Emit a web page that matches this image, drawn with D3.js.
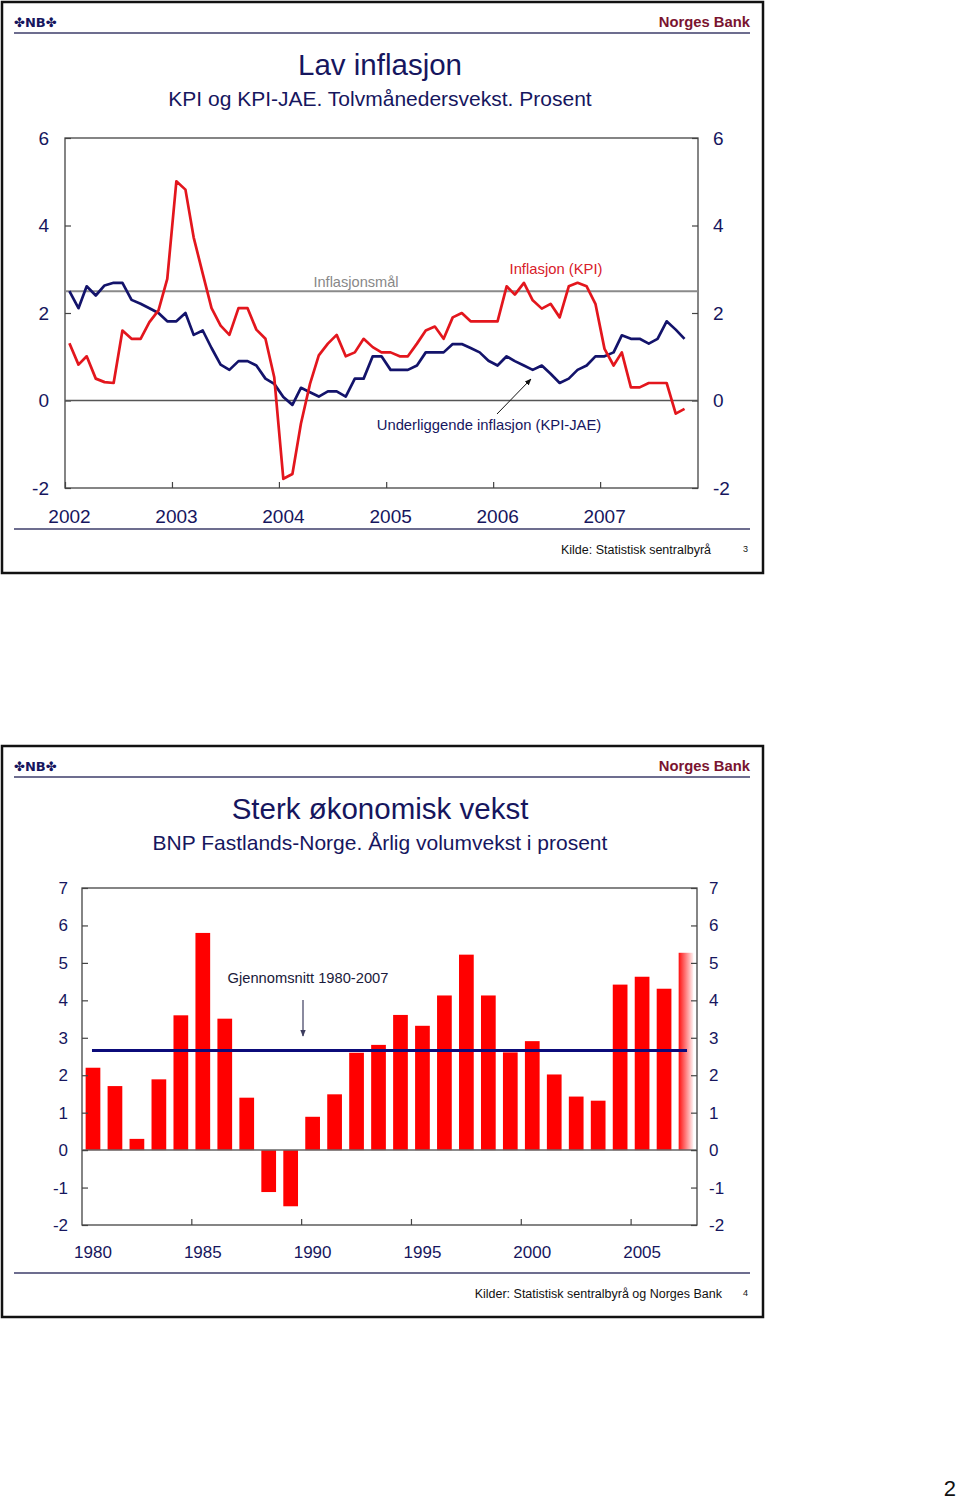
<!DOCTYPE html>
<html>
<head>
<meta charset="utf-8">
<script src="https://cdn.jsdelivr.net/npm/d3@7"></script>
<style>
body { margin: 0; background: #fff; }
text { font-family: "Liberation Sans", Arial, sans-serif; }
</style>
</head>
<body>
<svg id="paper" width="960" height="1501"></svg>
<script>
// KPI and KPI-JAE, twelve-month growth, Jan 2002 - Oct 2007
var kpi = [1.31, 0.82, 1.01, 0.50, 0.42, 0.40, 1.60, 1.41, 1.41, 1.79, 2.06, 2.78,
           5.01, 4.82, 3.73, 2.90, 2.11, 1.71, 1.50, 2.11, 2.11, 1.62, 1.41, 0.53,
           -1.79, -1.68, -0.53, 0.38, 1.03, 1.30, 1.50, 1.01, 1.10, 1.41, 1.22, 1.10,
           1.10, 1.01, 1.01, 1.30, 1.60, 1.69, 1.41, 1.90, 2.00, 1.81, 1.81, 1.81,
           1.81, 2.61, 2.42, 2.69, 2.29, 2.10, 2.21, 1.90, 2.61, 2.69, 2.61, 2.21,
           1.18, 0.80, 1.10, 0.30, 0.30, 0.40, 0.40, 0.40, -0.30, -0.19];
var kpiJae = [2.50, 2.11, 2.61, 2.40, 2.63, 2.69, 2.69, 2.30, 2.21, 2.11, 2.00, 1.81,
              1.81, 2.00, 1.50, 1.60, 1.20, 0.82, 0.70, 0.90, 0.90, 0.80, 0.50, 0.38,
              0.08, -0.10, 0.29, 0.19, 0.09, 0.21, 0.21, 0.09, 0.50, 0.50, 1.01, 1.01,
              0.70, 0.70, 0.70, 0.80, 1.10, 1.10, 1.10, 1.29, 1.29, 1.20, 1.10, 0.91,
              0.80, 1.01, 0.90, 0.80, 0.70, 0.80, 0.61, 0.40, 0.50, 0.70, 0.80, 1.01,
              1.01, 1.10, 1.49, 1.41, 1.41, 1.30, 1.41, 1.81, 1.62, 1.41];
var inflationTarget = 2.5;
var kpiTicks = [-2, 0, 2, 4, 6];

// BNP Fastlands-Norge, annual volume growth
var gdpYears = [1980, 1981, 1982, 1983, 1984, 1985, 1986, 1987, 1988, 1989,
                1990, 1991, 1992, 1993, 1994, 1995, 1996, 1997, 1998, 1999,
                2000, 2001, 2002, 2003, 2004, 2005, 2006, 2007];
var gdpGrowth = [2.20, 1.71, 0.30, 1.89, 3.60, 5.80, 3.51, 1.40, -1.12, -1.50,
                 0.89, 1.49, 2.60, 2.81, 3.61, 3.32, 4.13, 5.22, 4.13, 2.61,
                 2.91, 2.02, 1.43, 1.32, 4.42, 4.63, 4.31, 5.27];
var gdpAverage = 2.66;
var gdpTicks = [-2, -1, 0, 1, 2, 3, 4, 5, 6, 7];
var gdpLabelYears = [1980, 1985, 1990, 1995, 2000, 2005];

var svg = d3.select("#paper");
var navy = "#16165e";
var plain = function(d) { return String(d); };   // keep the hyphen minus as in the slide

var defs = svg.append("defs");
defs.append("marker").attr("id", "arrowBlack")
    .attr("viewBox", "0 0 10 10").attr("refX", 9).attr("refY", 5)
    .attr("markerWidth", 7).attr("markerHeight", 7).attr("orient", "auto")
  .append("path").attr("d", "M0,1L10,5L0,9z").style("fill", "#111");
defs.append("marker").attr("id", "arrowGrey")
    .attr("viewBox", "0 0 10 10").attr("refX", 9).attr("refY", 5)
    .attr("markerWidth", 6).attr("markerHeight", 6).attr("orient", "auto")
  .append("path").attr("d", "M0,1L10,5L0,9z").style("fill", "#3c3c5e");
var fade = defs.append("linearGradient").attr("id", "fade")
    .attr("x1", 0).attr("x2", 1).attr("y1", 0).attr("y2", 0);
fade.append("stop").attr("offset", "0%").style("stop-color", "#ff1010");
fade.append("stop").attr("offset", "100%").style("stop-color", "#fff2f2");

function drawSlide(y0, title, subtitle, source, sourceX, page) {
    var g = svg.append("g").attr("transform", "translate(0," + y0 + ")");
    g.append("rect").attr("x", 2).attr("y", 2).attr("width", 761).attr("height", 571)
        .style("fill", "none").style("stroke", "#111").style("stroke-width", 2.5);
    g.append("text").attr("x", 14).attr("y", 27).text("✤NB✤")
        .style("font-size", "13px").style("font-weight", "bold").style("fill", navy)
        .style("font-family", "DejaVu Sans");
    g.append("text").attr("x", 750).attr("y", 27).attr("text-anchor", "end").text("Norges Bank")
        .style("font-size", "14.8px").style("font-weight", "bold").style("fill", "#7a1430");
    g.append("line").attr("x1", 14).attr("x2", 750).attr("y1", 33).attr("y2", 33)
        .style("stroke", "#3c3c6a").style("stroke-width", 1.5);
    g.append("text").attr("x", 380).attr("y", 75).attr("text-anchor", "middle").text(title)
        .style("font-size", "29.5px").style("fill", navy);
    g.append("text").attr("x", 380).attr("y", 106).attr("text-anchor", "middle").text(subtitle)
        .style("font-size", "21px").style("fill", navy);
    g.append("line").attr("x1", 14).attr("x2", 750).attr("y1", 529).attr("y2", 529)
        .style("stroke", "#3c3c6a").style("stroke-width", 1.5);
    g.append("text").attr("x", sourceX).attr("y", 554).attr("text-anchor", "end").text(source)
        .style("font-size", "12.5px").style("fill", "#111");
    g.append("text").attr("x", 748).attr("y", 552).attr("text-anchor", "end").text(page)
        .style("font-size", "9px").style("fill", "#111");
    return g;
}

drawSlide(0, "Lav inflasjon", "KPI og KPI-JAE. Tolvmånedersvekst. Prosent",
          "Kilde: Statistisk sentralbyrå", 711, "3");
drawSlide(744, "Sterk økonomisk vekst", "BNP Fastlands-Norge. Årlig volumvekst i prosent",
          "Kilder: Statistisk sentralbyrå og Norges Bank", 722, "4");

function styleAxis(a, size) {
    a.select(".domain").remove();
    a.selectAll(".tick line").style("stroke", "#444").style("stroke-width", 1.2);
    a.selectAll(".tick text").style("font-size", size).style("fill", navy)
        .style("font-family", "Liberation Sans, Arial, sans-serif");
}

// ---------- chart 1: inflation ----------
var x = d3.scaleTime().domain([new Date(2002, 0, 1), new Date(2007, 11, 1)]).range([65, 698]);
var y = d3.scaleLinear().domain([-2, 6]).range([488, 138]);
var c1 = svg.append("g");

c1.append("rect").attr("x", 65).attr("y", 138).attr("width", 633).attr("height", 350)
    .style("fill", "none").style("stroke", "#444").style("stroke-width", 1.3);

var ax = c1.append("g").attr("transform", "translate(65,0)")
    .call(d3.axisLeft(y).tickValues(kpiTicks).tickFormat(plain).tickSize(-6).tickPadding(16));
styleAxis(ax, "19px");
ax = c1.append("g").attr("transform", "translate(698,0)")
    .call(d3.axisRight(y).tickValues(kpiTicks).tickFormat(plain).tickSize(-6).tickPadding(15));
styleAxis(ax, "19px");
ax = c1.append("g").attr("transform", "translate(0,488)")
    .call(d3.axisBottom(x).ticks(d3.timeYear.every(1)).tickFormat(d3.timeFormat("%Y"))
        .tickSize(-6).tickPadding(22));
styleAxis(ax, "19px");
ax.selectAll(".tick text").attr("dx", 4);

c1.append("line").attr("x1", 65).attr("x2", 698).attr("y1", y(0)).attr("y2", y(0))
    .style("stroke", "#555").style("stroke-width", 1.5);
c1.append("line").attr("x1", 65).attr("x2", 698)
    .attr("y1", y(inflationTarget)).attr("y2", y(inflationTarget))
    .style("stroke", "#8a8a8a").style("stroke-width", 2);

var line = d3.line()
    .x(function(d, i) { return x(new Date(2002, i, 16)); })
    .y(function(d) { return y(d); });

c1.append("path").datum(kpiJae).attr("d", line)
    .style("fill", "none").style("stroke", "#13136b").style("stroke-width", 2.7)
    .style("stroke-linejoin", "round");
c1.append("path").datum(kpi).attr("d", line)
    .style("fill", "none").style("stroke", "#e3161d").style("stroke-width", 2.7)
    .style("stroke-linejoin", "round");

c1.append("text").attr("x", 356).attr("y", 287).attr("text-anchor", "middle")
    .text("Inflasjonsmål").style("font-size", "14.6px").style("fill", "#888");
c1.append("text").attr("x", 556).attr("y", 274).attr("text-anchor", "middle")
    .text("Inflasjon (KPI)").style("font-size", "14.8px").style("fill", "#d8202a");
c1.append("text").attr("x", 489).attr("y", 430).attr("text-anchor", "middle")
    .text("Underliggende inflasjon (KPI-JAE)").style("font-size", "14.8px").style("fill", navy);
c1.append("line").attr("x1", 497).attr("y1", 414).attr("x2", 531).attr("y2", 379)
    .style("stroke", "#111").style("stroke-width", 1).attr("marker-end", "url(#arrowBlack)");

// ---------- chart 2: GDP growth ----------
var xb = d3.scaleBand().domain(gdpYears).range([82, 697]).paddingInner(0.33).paddingOuter(0.165);
var yb = d3.scaleLinear().domain([-2, 7]).range([1225, 888]);
var c2 = svg.append("g");

c2.append("rect").attr("x", 82).attr("y", 888).attr("width", 615).attr("height", 337)
    .style("fill", "none").style("stroke", "#444").style("stroke-width", 1.3);

c2.selectAll("rect.bar")
    .data(gdpGrowth)
    .enter().append("rect")
    .attr("class", "bar")
    .attr("x", function(d, i) { return xb(gdpYears[i]); })
    .attr("width", xb.bandwidth())
    .attr("y", function(d) { return yb(Math.max(0, d)); })
    .attr("height", function(d) { return Math.abs(yb(d) - yb(0)); })
    .style("fill", function(d, i) { return i == gdpYears.length - 1 ? "url(#fade)" : "#ff0000"; });

c2.append("line").attr("x1", 82).attr("x2", 697).attr("y1", yb(0)).attr("y2", yb(0))
    .style("stroke", "#666").style("stroke-width", 1.5);

ax = c2.append("g").attr("transform", "translate(82,0)")
    .call(d3.axisLeft(yb).tickValues(gdpTicks).tickFormat(plain).tickSize(-6).tickPadding(14));
styleAxis(ax, "17px");
ax = c2.append("g").attr("transform", "translate(697,0)")
    .call(d3.axisRight(yb).tickValues(gdpTicks).tickFormat(plain).tickSize(-6).tickPadding(12));
styleAxis(ax, "17px");

var gap = xb.step() - xb.bandwidth();
c2.selectAll("line.yt")
    .data(gdpLabelYears.slice(1))
    .enter().append("line")
    .attr("class", "yt")
    .attr("x1", function(d) { return xb(d) - gap / 2; })
    .attr("x2", function(d) { return xb(d) - gap / 2; })
    .attr("y1", 1225).attr("y2", 1219)
    .style("stroke", "#444").style("stroke-width", 1.2);
c2.selectAll("text.yl")
    .data(gdpLabelYears)
    .enter().append("text")
    .attr("class", "yl")
    .attr("x", function(d) { return xb(d) + xb.bandwidth() / 2; })
    .attr("y", 1258)
    .attr("text-anchor", "middle")
    .text(function(d) { return d; })
    .style("font-size", "17px").style("fill", navy);

c2.append("line")
    .attr("x1", xb(1980) + xb.bandwidth() / 2 - 1)
    .attr("x2", xb(2007) + xb.bandwidth() / 2 + 1)
    .attr("y1", yb(gdpAverage)).attr("y2", yb(gdpAverage))
    .style("stroke", "#0b0b7a").style("stroke-width", 3);

c2.append("text").attr("x", 308).attr("y", 983).attr("text-anchor", "middle")
    .text("Gjennomsnitt 1980-2007").style("font-size", "14.7px").style("fill", "#1a1a3a");
c2.append("line").attr("x1", 303).attr("x2", 303).attr("y1", 1000).attr("y2", 1036)
    .style("stroke", "#3c3c5e").style("stroke-width", 1.2).attr("marker-end", "url(#arrowGrey)");

svg.append("text").attr("x", 956).attr("y", 1496).attr("text-anchor", "end").text("2")
    .style("font-size", "22px").style("fill", "#111");
</script>
</body>
</html>
